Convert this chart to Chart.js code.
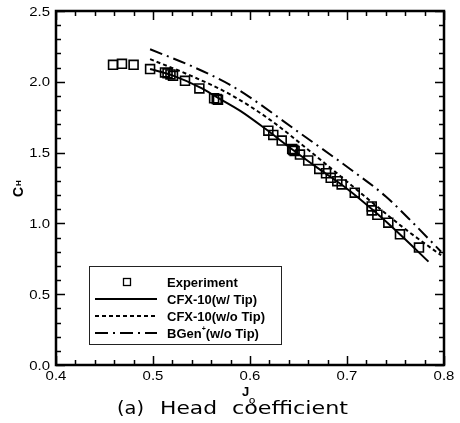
<!DOCTYPE html>
<html>
<head>
<meta charset="utf-8">
<script src="https://cdn.jsdelivr.net/npm/chart.js@4/dist/chart.umd.min.js"></script>
<style>
  html, body { margin: 0; padding: 0; background: #fff; }
  #wrap { width: 460px; height: 423px; }
</style>
</head>
<body>
<div id="wrap"><canvas id="chart" width="460" height="423"></canvas></div>
<script>
/* ---------- Data ---------- */
const expJ  = [0.4588, 0.468, 0.480, 0.497, 0.5124, 0.515, 0.518, 0.5206, 0.533, 0.5478, 0.563, 0.5657, 0.567,
               0.6189, 0.624, 0.6327, 0.6435, 0.6447, 0.646, 0.6515, 0.660, 0.6714, 0.6784, 0.6832, 0.690, 0.6945,
               0.708, 0.7255, 0.7255, 0.7313, 0.7426, 0.7546, 0.7742];
const expCH = [2.12, 2.127, 2.12, 2.09, 2.066, 2.06, 2.052, 2.042, 2.007, 1.953, 1.884, 1.878, 1.874,
               1.655, 1.625, 1.585, 1.525, 1.519, 1.512, 1.486, 1.444, 1.385, 1.354, 1.322, 1.298, 1.275,
               1.217, 1.12, 1.092, 1.061, 1.005, 0.923, 0.829];

const tipJ  = [0.497, 0.52, 0.55, 0.565, 0.59, 0.6155, 0.644, 0.67, 0.70, 0.73, 0.755, 0.784];
const tipCH = [2.09, 2.045, 1.955, 1.895, 1.795, 1.67, 1.52, 1.39, 1.245, 1.075, 0.92, 0.73];

const noTipJ  = [0.497, 0.54, 0.579, 0.62, 0.66, 0.693, 0.73, 0.76, 0.797];
const noTipCH = [2.16, 2.04, 1.913, 1.735, 1.52, 1.335, 1.125, 0.96, 0.775];

const bgenJ  = [0.497, 0.54, 0.579, 0.60, 0.65, 0.70, 0.74, 0.77, 0.797];
const bgenCH = [2.23, 2.11, 1.98, 1.89, 1.645, 1.40, 1.19, 0.99, 0.80];

const xTicks = [0.4, 0.5, 0.6, 0.7, 0.8];
const xTickLabels = ['0.4', '0.5', '0.6', '0.7', '0.8'];
const yTicks = [0.0, 0.5, 1.0, 1.5, 2.0, 2.5];
const yTickLabels = ['0.0', '0.5', '1.0', '1.5', '2.0', '2.5'];
const X_MINOR = 0.02, Y_MINOR = 0.1;

const seriesNames = ['Experiment', 'CFX-10(w/ Tip)', 'CFX-10(w/o Tip)', 'BGen'];

const DOT = [4, 3];
const DASHDOT = [13, 5, 2, 5];

const pts = (xs, ys) => xs.map((v, i) => ({ x: v, y: ys[i] }));

/* ---------- helpers ---------- */
function stretchText(ctx, text, x, y, sx) {
  ctx.save(); ctx.translate(x, y); ctx.scale(sx, 1); ctx.fillText(text, 0, 0); ctx.restore();
}
function fitText(ctx, text, left, right, y) {
  const w = ctx.measureText(text).width;
  ctx.save(); ctx.translate(left, y); ctx.scale((right - left) / w, 1);
  ctx.textAlign = 'left'; ctx.fillText(text, 0, 0); ctx.restore();
}

/* ---------- frame, ticks, labels, legend ---------- */
const decor = {
  id: 'decor',
  afterDatasetsDraw(chart) {
    const { ctx, chartArea: a, scales: { x, y } } = chart;
    ctx.save();
    ctx.strokeStyle = '#000'; ctx.fillStyle = '#000';

    // minor + major ticks, inward on all four sides
    ctx.lineWidth = 1.5;
    ctx.beginPath();
    for (let v = 0.4; v <= 0.8001; v += X_MINOR) {
      const px = Math.round(x.getPixelForValue(v)) + 0.5;
      const major = xTicks.some(t => Math.abs(t - v) < 1e-6);
      const len = major ? 9 : 5;
      ctx.moveTo(px, a.bottom); ctx.lineTo(px, a.bottom - len);
      ctx.moveTo(px, a.top); ctx.lineTo(px, a.top + len);
    }
    for (let v = 0; v <= 2.5001; v += Y_MINOR) {
      const py = Math.round(y.getPixelForValue(v)) + 0.5;
      const major = yTicks.some(t => Math.abs(t - v) < 1e-6);
      const len = major ? 9 : 5;
      ctx.moveTo(a.left, py); ctx.lineTo(a.left + len, py);
      ctx.moveTo(a.right, py); ctx.lineTo(a.right - len, py);
    }
    ctx.stroke();

    // frame
    ctx.lineWidth = 2.5;
    ctx.strokeRect(a.left, a.top, a.right - a.left, a.bottom - a.top);

    // tick labels
    ctx.font = '13px "Liberation Sans", Arial, sans-serif';
    ctx.textBaseline = 'middle';
    ctx.textAlign = 'right';
    yTicks.forEach((t, i) => stretchText(ctx, yTickLabels[i], 50, y.getPixelForValue(t) + 1, 1.15));
    ctx.textAlign = 'center';
    ctx.textBaseline = 'top';
    xTicks.forEach((t, i) => stretchText(ctx, xTickLabels[i], x.getPixelForValue(t), a.bottom + 5, 1.15));

    // axis titles
    ctx.textBaseline = 'alphabetic';
    ctx.textAlign = 'left';
    ctx.font = 'bold 13px "Liberation Sans", Arial, sans-serif';
    ctx.fillText('J', 242, 396);
    ctx.font = 'bold 8px "Liberation Sans", Arial, sans-serif';
    ctx.fillText('Q', 249, 403);
    ctx.save();
    ctx.translate(23, 197); ctx.rotate(-Math.PI / 2);
    ctx.font = 'bold 14px "Liberation Sans", Arial, sans-serif';
    ctx.fillText('C', 0, 0);
    ctx.font = 'bold 8px "Liberation Sans", Arial, sans-serif';
    ctx.fillText('H', 11, -2);
    ctx.restore();

    // caption
    ctx.font = '18px "DejaVu Sans", sans-serif';
    fitText(ctx, '(a)', 117, 144, 414);
    fitText(ctx, 'Head', 160, 217, 414);
    fitText(ctx, 'coefficient', 232, 348, 414);

    // legend
    const L = { left: 89, top: 266, right: 281, bottom: 344 };
    ctx.fillStyle = '#fff';
    ctx.fillRect(L.left, L.top, L.right - L.left, L.bottom - L.top);
    ctx.strokeStyle = '#222'; ctx.lineWidth = 1;
    ctx.strokeRect(L.left + 0.5, L.top + 0.5, L.right - L.left, L.bottom - L.top);
    const rows = [282, 299, 316, 333];
    ctx.strokeStyle = '#000'; ctx.fillStyle = '#000';
    ctx.lineWidth = 1.3;
    ctx.strokeRect(123.5, rows[0] - 3.5, 7, 7);
    ctx.lineWidth = 2;
    [[], DOT, DASHDOT].forEach((dash, i) => {
      ctx.setLineDash(dash);
      ctx.beginPath(); ctx.moveTo(95, rows[i + 1]); ctx.lineTo(157, rows[i + 1]); ctx.stroke();
    });
    ctx.setLineDash([]);
    ctx.font = 'bold 13px "Liberation Sans", Arial, sans-serif';
    ctx.textBaseline = 'middle';
    seriesNames.forEach((s, i) => ctx.fillText(s, 167, rows[i] + 1));
    const bw = ctx.measureText('BGen').width;
    ctx.font = 'bold 7px "Liberation Sans", Arial, sans-serif';
    ctx.fillText('+', 167 + bw, rows[3] - 4);
    const pw = ctx.measureText('+').width;
    ctx.font = 'bold 13px "Liberation Sans", Arial, sans-serif';
    ctx.fillText('(w/o Tip)', 167 + bw + pw, rows[3] + 1);

    ctx.restore();
  }
};

/* ---------- chart ---------- */
new Chart(document.getElementById('chart'), {
  type: 'scatter',
  data: {
    datasets: [
      { label: seriesNames[0], data: pts(expJ, expCH), showLine: false,
        pointStyle: 'rect', pointRadius: 6.3, borderColor: '#000', borderWidth: 1.6,
        backgroundColor: 'rgba(0,0,0,0)' },
      { label: seriesNames[1], data: pts(tipJ, tipCH), showLine: true, pointRadius: 0,
        borderColor: '#000', borderWidth: 2, cubicInterpolationMode: 'monotone' },
      { label: seriesNames[2], data: pts(noTipJ, noTipCH), showLine: true, pointRadius: 0,
        borderColor: '#000', borderWidth: 2, borderDash: DOT, cubicInterpolationMode: 'monotone' },
      { label: seriesNames[3], data: pts(bgenJ, bgenCH), showLine: true, pointRadius: 0,
        borderColor: '#000', borderWidth: 2, borderDash: DASHDOT, cubicInterpolationMode: 'monotone' }
    ]
  },
  options: {
    responsive: false,
    animation: false,
    devicePixelRatio: 1,
    layout: { padding: { left: 56, top: 11, right: 16, bottom: 58 } },
    scales: {
      x: { type: 'linear', min: 0.4, max: 0.8, display: false },
      y: { type: 'linear', min: 0, max: 2.5, display: false }
    },
    plugins: { legend: { display: false }, tooltip: { enabled: false } }
  },
  plugins: [decor]
});
</script>
</body>
</html>
